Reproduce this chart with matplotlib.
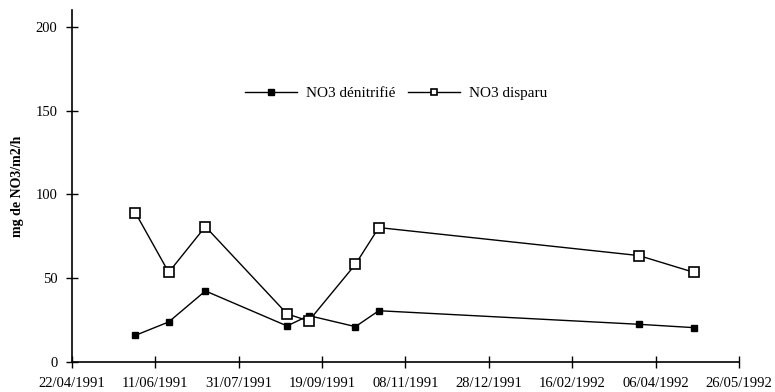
import matplotlib
matplotlib.use("Agg")
import matplotlib.pyplot as plt
import pandas as pd

dates = ["30/05/1991", "19/06/1991", "11/07/1991", "29/08/1991", "11/09/1991",
         "09/10/1991", "23/10/1991", "27/03/1992", "29/04/1992"]
no3_denitrifie = [15.9, 23.9, 42.4, 21.5, 27.7, 21.1, 30.6, 22.5, 20.5]
no3_disparu = [89.1, 53.5, 80.8, 28.7, 24.5, 58.3, 80.2, 63.5, 53.5]
tick_labels = ["22/04/1991", "11/06/1991", "31/07/1991", "19/09/1991", "08/11/1991",
               "28/12/1991", "16/02/1992", "06/04/1992", "26/05/1992"]
y_ticks = [0, 50, 100, 150, 200]

plt.rcParams['font.family'] = ['Liberation Serif', 'DejaVu Serif']

x = pd.to_datetime(dates, format="%d/%m/%Y")
xt = pd.to_datetime(tick_labels, format="%d/%m/%Y")

fig = plt.figure(figsize=(7.75, 3.92), dpi=100)
ax = fig.add_axes([0.0929, 0.0765, 0.8606, 0.898])

ax.plot(x, no3_denitrifie, color='black', lw=1.0, marker='s', markersize=4.5,
        markerfacecolor='black', markeredgecolor='black', label='NO3 dénitrifié')
ax.plot(x, no3_disparu, color='black', lw=1.0, marker='s', markersize=7,
        markerfacecolor='white', markeredgecolor='black', markeredgewidth=1.2,
        label='NO3 disparu')

ax.set_xlim(xt[0], xt[-1])
ax.set_ylim(0, 210)
ax.set_xticks(xt)
ax.set_xticklabels(tick_labels, fontsize=10.5)
ax.set_yticks(y_ticks)
ax.set_yticklabels([str(v) for v in y_ticks], fontsize=10.5)
ax.tick_params(direction='inout', length=9, width=1, pad=6)

for s in ['top', 'right']:
    ax.spines[s].set_visible(False)
for s in ['left', 'bottom']:
    ax.spines[s].set_linewidth(1.2)

ax.set_ylabel('mg de NO3/m2/h', fontsize=10, fontweight='bold', labelpad=8)

leg = ax.legend(loc='center', bbox_to_anchor=(0.486, 0.764), ncol=2, frameon=False,
                fontsize=11, handlelength=3.4, columnspacing=0.8, handletextpad=0.6)
for h in leg.legend_handles:
    h.set_markersize(5)

fig.savefig('out.png', dpi=100)
